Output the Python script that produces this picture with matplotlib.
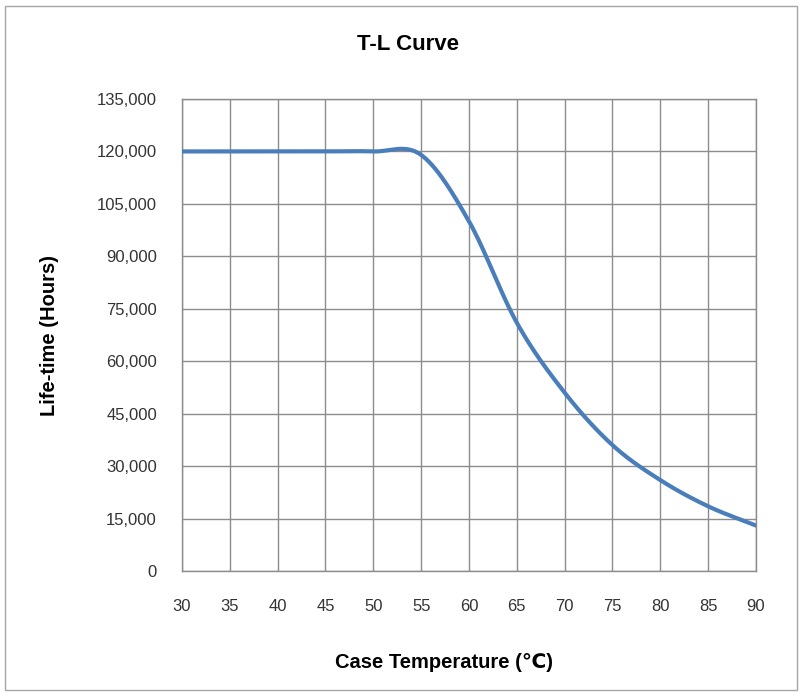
import numpy as np
import matplotlib
matplotlib.use("Agg")
import matplotlib.pyplot as plt
from matplotlib.patches import Rectangle

temps = [30, 35, 40, 45, 50, 55, 60, 65, 70, 75, 80, 85, 90]
life = [120000, 120000, 120000, 120000, 120000, 119000, 100000, 71000, 51000, 36000, 26000, 18500, 13000]
x_ticks = list(range(30, 91, 5))
y_ticks = list(range(0, 135001, 15000))

plt.rcParams['font.family'] = ['Liberation Sans', 'DejaVu Sans']


def catmull_rom(xs, ys, n=30):
    xs = np.asarray(xs, float)
    ys = np.asarray(ys, float)
    px = np.concatenate([[2 * xs[0] - xs[1]], xs, [2 * xs[-1] - xs[-2]]])
    py = np.concatenate([[2 * ys[0] - ys[1]], ys, [2 * ys[-1] - ys[-2]]])
    ox, oy = [], []
    for i in range(1, len(px) - 2):
        t = np.linspace(0, 1, n, endpoint=False)
        for arr, out in ((px, ox), (py, oy)):
            p0, p1, p2, p3 = arr[i - 1], arr[i], arr[i + 1], arr[i + 2]
            m1 = (p2 - p0) / 2
            m2 = (p3 - p1) / 2
            h00 = 2 * t**3 - 3 * t**2 + 1
            h10 = t**3 - 2 * t**2 + t
            h01 = -2 * t**3 + 3 * t**2
            h11 = t**3 - t**2
            out.extend(h00 * p1 + h10 * m1 + h01 * p2 + h11 * m2)
    ox.append(xs[-1]); oy.append(ys[-1])
    return np.array(ox), np.array(oy)


W, H = 803, 697
fig = plt.figure(figsize=(W / 100, H / 100), dpi=100)
fig.patch.set_facecolor('white')
fig.patches.append(Rectangle((5 / W, 7 / H), 792 / W, 684 / H, transform=fig.transFigure,
                             fill=False, edgecolor='#a6a6a6', linewidth=1.0))

ax = fig.add_axes([182 / W, 1 - 571 / H, (756 - 182) / W, (571 - 99) / H])
sx, sy = catmull_rom(temps, life)
ax.plot(sx, sy, color='#4a7ebb', linewidth=3.0, solid_capstyle='round', zorder=3)

ax.set_xlim(30, 90)
ax.set_ylim(0, 135000)
ax.set_xticks(x_ticks)
ax.set_yticks(y_ticks)
ax.set_xticklabels([str(v) for v in x_ticks], fontsize=12, color='#333333')
ax.set_yticklabels([f"{v:,}" for v in y_ticks], fontsize=12, color='#333333')
ax.tick_params(axis='y', length=0, pad=18)
ax.tick_params(axis='x', length=0, pad=20)
ax.grid(True, color='#8c8c8c', linewidth=1.0)
for s in ax.spines.values():
    s.set_color('#8c8c8c')
    s.set_linewidth(1.0)

fig.text(408 / W, 1 - 45 / H, 'T-L Curve', ha='center', va='center', fontsize=16, fontweight='bold')
fig.text(50 / W, 1 - 335 / H, 'Life-time (Hours)', ha='center', va='center', rotation=90,
         fontsize=14.5, fontweight='bold')
fig.text(444 / W, 1 - 663 / H, 'Case Temperature (℃)', ha='center', va='center',
         fontsize=14.5, fontweight='bold')

fig.savefig('out.png', dpi=100)
